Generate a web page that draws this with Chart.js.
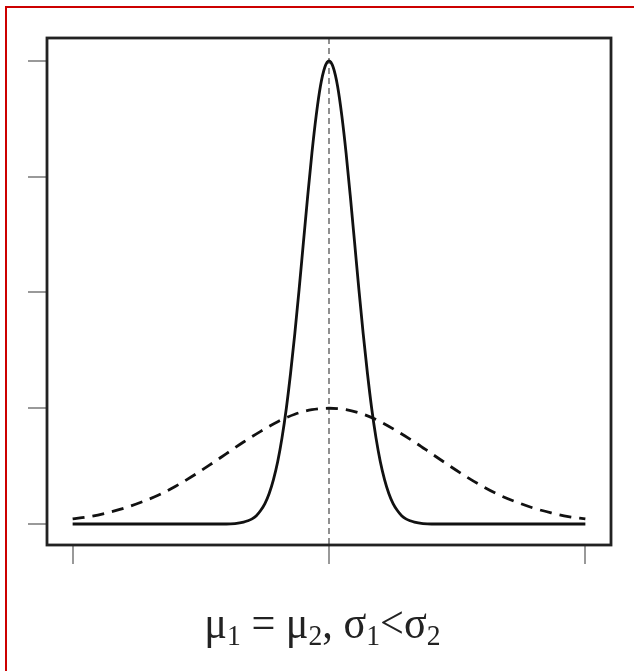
<!DOCTYPE html>
<html>
<head>
<meta charset="utf-8">
<script src="https://cdn.jsdelivr.net/npm/chart.js@4/dist/chart.umd.min.js"></script>
<style>
  html, body { margin: 0; padding: 0; background: #fff; }
  body { width: 634px; height: 671px; position: relative; overflow: hidden; }
  #frame {
    position: absolute; left: 5px; top: 6px; width: 700px; height: 700px;
    border-top: 2px solid #cc0000; border-left: 2px solid #cc0000;
  }
  #chart { position: absolute; left: 0; top: 0; }
  #caption {
    position: absolute; left: 0; top: 600px; width: 645px; text-align: center;
    font-family: "Liberation Serif", "DejaVu Serif", serif; font-size: 46px;
    line-height: 46px; color: #222; white-space: nowrap;
    transform: scaleX(0.92); transform-origin: 322px 0;
  }
  #caption sub { font-size: 30px; line-height: 0; vertical-align: -7px; }
</style>
</head>
<body>
<div id="frame"></div>
<canvas id="chart" width="634" height="671"></canvas>
<div id="caption">μ<sub>1</sub> = μ<sub>2</sub>, σ<sub>1</sub>&lt;σ<sub>2</sub></div>
<script>
// ── Data ──────────────────────────────────
const xTicks = [-3, 0, 3];
const yTicks = [0, 0.25, 0.5, 0.75, 1];

// narrow curve (σ1), solid
const solidX = [-3, -2.5, -2, -1.5, -1.2, -1.1, -1, -0.95, -0.9, -0.85, -0.8, -0.75, -0.7, -0.65,
  -0.6, -0.55, -0.5, -0.45, -0.4, -0.35, -0.3, -0.25, -0.2, -0.15, -0.1, -0.05, 0,
  0.05, 0.1, 0.15, 0.2, 0.25, 0.3, 0.35, 0.4, 0.45, 0.5, 0.55, 0.6, 0.65, 0.7, 0.75,
  0.8, 0.85, 0.9, 0.95, 1, 1.1, 1.2, 1.5, 2, 2.5, 3];
const solidY = [0, 0, 0, 0, 0, 0.001, 0.004, 0.007, 0.011, 0.018, 0.029, 0.044, 0.066, 0.096,
  0.135, 0.186, 0.249, 0.325, 0.411, 0.506, 0.607, 0.707, 0.801, 0.882, 0.946, 0.986, 1,
  0.986, 0.946, 0.882, 0.801, 0.707, 0.607, 0.506, 0.411, 0.325, 0.249, 0.186, 0.135, 0.096,
  0.066, 0.044, 0.029, 0.018, 0.011, 0.007, 0.004, 0.001, 0, 0, 0, 0, 0];

// wide curve (σ2), dashed
const dashedX = [-3, -2.8, -2.6, -2.4, -2.2, -2, -1.8, -1.6, -1.4, -1.2, -1, -0.8, -0.6, -0.4, -0.2, 0,
  0.2, 0.4, 0.6, 0.8, 1, 1.2, 1.4, 1.6, 1.8, 2, 2.2, 2.4, 2.6, 2.8, 3];
const dashedY = [0.011, 0.016, 0.024, 0.034, 0.047, 0.062, 0.081, 0.103, 0.127, 0.152, 0.177, 0.200,
  0.221, 0.237, 0.247, 0.25, 0.247, 0.237, 0.221, 0.200, 0.177, 0.152, 0.127, 0.103, 0.081,
  0.062, 0.047, 0.034, 0.024, 0.016, 0.011];

const meanLine = 0;

const toPoints = (xs, ys) => xs.map((x, i) => ({ x, y: ys[i] }));

// ── Plugins: box + vertical mean line ─────
const boxPlugin = {
  id: 'box',
  beforeDatasetsDraw(chart) {
    const { ctx, chartArea: a, scales } = chart;
    const px = scales.x.getPixelForValue(meanLine);
    ctx.save();
    ctx.strokeStyle = '#555';
    ctx.lineWidth = 1.3;
    ctx.setLineDash([6, 4]);
    ctx.beginPath();
    ctx.moveTo(px, a.top);
    ctx.lineTo(px, a.bottom);
    ctx.stroke();
    ctx.restore();
  },
  afterDraw(chart) {
    const { ctx, chartArea: a } = chart;
    ctx.save();
    ctx.strokeStyle = '#222';
    ctx.lineWidth = 2.8;
    ctx.strokeRect(a.left, a.top, a.right - a.left, a.bottom - a.top);
    ctx.restore();
  }
};

const axisCommon = {
  type: 'linear',
  border: { display: false },
  grid: { drawOnChartArea: false, drawTicks: true, tickLength: 19, color: '#999', lineWidth: 2 },
  ticks: { display: false }
};

new Chart(document.getElementById('chart'), {
  type: 'line',
  data: {
    datasets: [
      {
        data: toPoints(dashedX, dashedY),
        borderColor: '#111',
        borderWidth: 2.8,
        borderDash: [12, 8],
        pointRadius: 0,
        cubicInterpolationMode: 'monotone',
        fill: false
      },
      {
        data: toPoints(solidX, solidY),
        borderColor: '#111',
        borderWidth: 2.8,
        pointRadius: 0,
        cubicInterpolationMode: 'monotone',
        fill: false
      }
    ]
  },
  options: {
    responsive: false,
    animation: false,
    devicePixelRatio: 1,
    layout: { padding: { left: 28, top: 38, right: 23, bottom: 107 } },
    plugins: { legend: { display: false }, tooltip: { enabled: false } },
    scales: {
      x: {
        ...axisCommon,
        min: -3.3, max: 3.3,
        afterBuildTicks: axis => { axis.ticks = xTicks.map(v => ({ value: v })); }
      },
      y: {
        ...axisCommon,
        min: -0.0454, max: 1.0497,
        afterBuildTicks: axis => { axis.ticks = yTicks.map(v => ({ value: v })); }
      }
    }
  },
  plugins: [boxPlugin]
});
</script>
</body>
</html>
